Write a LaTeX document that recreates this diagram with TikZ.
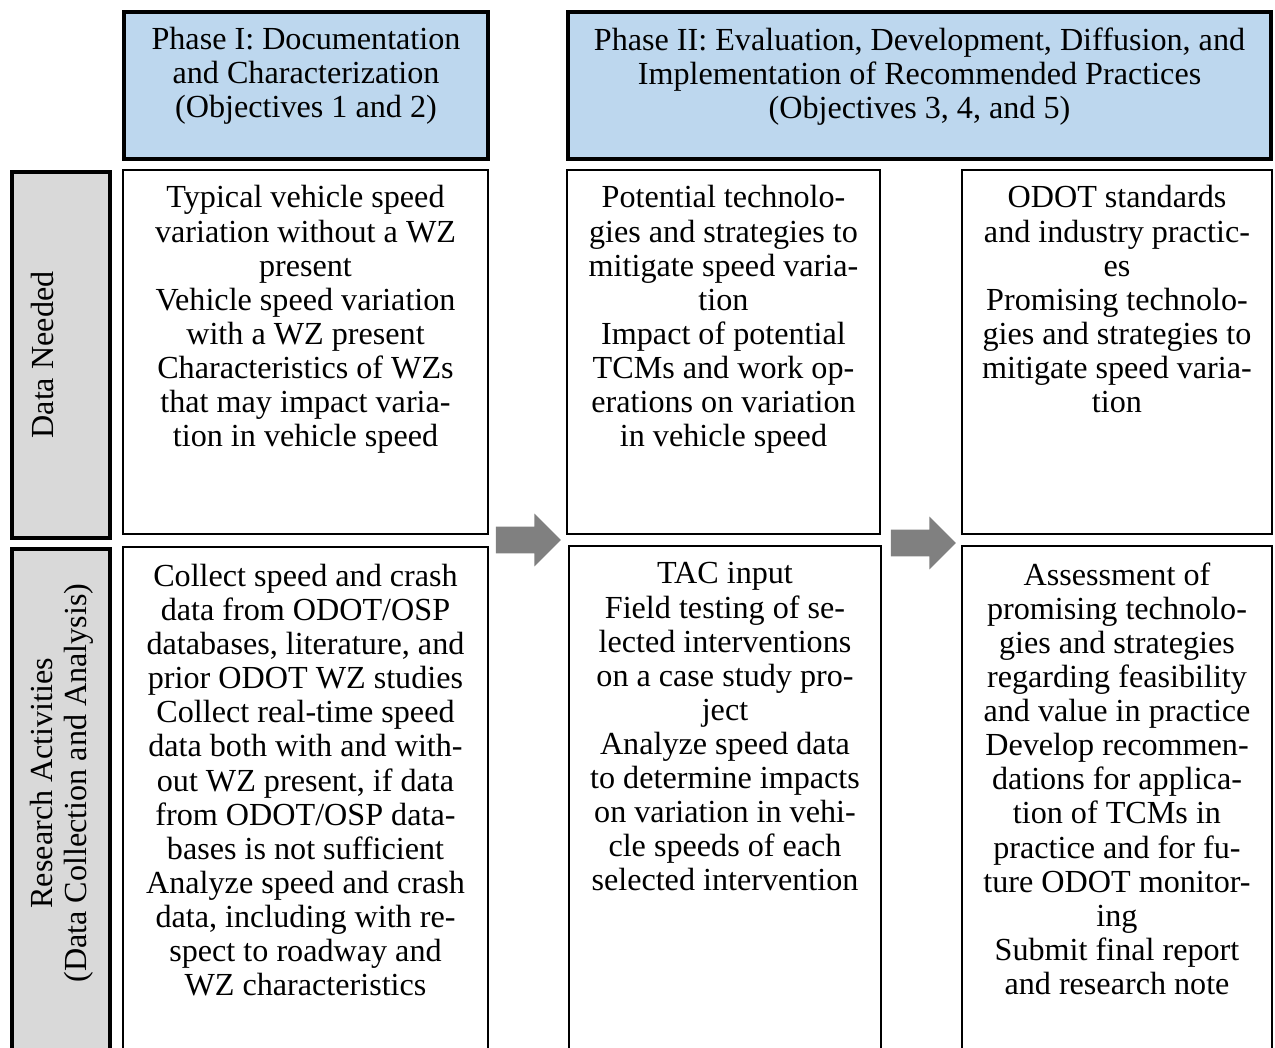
\documentclass[tikz,border=0pt]{standalone}
\usepackage{fontspec}
\setmainfont{Liberation Serif}
\usetikzlibrary{positioning,shapes.arrows,calc}
\definecolor{phaseblue}{RGB}{189,215,238}
\definecolor{rowgray}{RGB}{217,217,217}
\definecolor{arrowgray}{RGB}{128,128,128}

\begin{document}
\begin{tikzpicture}[
  x=0.02cm, y=-0.02cm,
  phase/.style={draw, line width=2.2pt, fill=phaseblue, inner sep=0pt, minimum height=2.94cm},
  rowlabel/.style={draw, line width=2.2pt, fill=rowgray, inner sep=0pt, minimum width=1.96cm},
  cell/.style={draw, line width=0.8pt, fill=white, inner sep=0pt},
  celltext/.style={align=center, inner sep=0pt, font=\fontsize{18.3}{19.4}\selectfont},
  bigarrow/.style={single arrow, fill=arrowgray, draw=none, inner xsep=0pt, inner ysep=0.26cm, minimum height=1.3cm, single arrow head extend=0.26cm, anchor=tip}
]
\useasboundingbox (0,0) rectangle (1275,1048);
% phase headers
\node[phase, minimum width=7.28cm] (ph1) at (306,85.5) {};
\node[phase, minimum width=14.06cm] (ph2) at (919.5,85.5) {};
\node[celltext, below=0.34cm of ph1.north] (ph1text) {Phase I: Documentation\\and Characterization\\(Objectives 1 and 2)};
\node[celltext, below=0.34cm of ph2.north] (ph2text) {Phase II: Evaluation, Development, Diffusion, and\\Implementation of Recommended Practices\\(Objectives 3, 4, and 5)};
% row labels
\node[rowlabel, minimum height=7.32cm] (need) at (61,355) {};
\node[rowlabel, minimum height=10.32cm] (act) at (61,807) {};
\node[celltext, rotate=90, anchor=base] (needtext) at (53,355) {Data Needed};
\node[celltext, rotate=90, anchor=north] (acttext) at (30,783) {Research Activities\\(Data Collection and Analysis)};
% cells
\node[cell, minimum width=7.30cm, minimum height=7.28cm] (a1) at (305.5,352) {};
\node[cell, minimum width=6.26cm, minimum height=7.28cm] (b1) at (723.5,352) {};
\node[cell, minimum width=6.20cm, minimum height=7.28cm] (c1) at (1117,352) {};
\node[cell, minimum width=7.30cm, minimum height=10.46cm] (a2) at (305.5,808.5) {};
\node[cell, minimum width=6.24cm, minimum height=10.48cm] (b2) at (725,808) {};
\node[cell, minimum width=6.20cm, minimum height=10.48cm] (c2) at (1117,808) {};
\node[celltext, below=0.32cm of a1.north] (a1text) {Typical vehicle speed\\variation without a WZ\\present\\Vehicle speed variation\\with a WZ present\\Characteristics of WZs\\that may impact varia-\\tion in vehicle speed};
\node[celltext, below=0.32cm of b1.north] (b1text) {Potential technolo-\\gies and strategies to\\mitigate speed varia-\\tion\\Impact of potential\\TCMs and work op-\\erations on variation\\in vehicle speed};
\node[celltext, below=0.32cm of c1.north] (c1text) {ODOT standards\\and industry practic-\\es\\Promising technolo-\\gies and strategies to\\mitigate speed varia-\\tion};
\node[celltext, below=0.35cm of a2.north] (a2text) {Collect speed and crash\\data from ODOT/OSP\\databases, literature, and\\prior ODOT WZ studies\\Collect real-time speed\\data both with and with-\\out WZ present, if data\\from ODOT/OSP data-\\bases is not sufficient\\Analyze speed and crash\\data, including with re-\\spect to roadway and\\WZ characteristics};
\node[celltext, below=0.34cm of b2.north] (b2text) {TAC input\\Field testing of se-\\lected interventions\\on a case study pro-\\ject\\Analyze speed data\\to determine impacts\\on variation in vehi-\\cle speeds of each\\selected intervention};
\node[celltext, below=0.34cm of c2.north] (c2text) {Assessment of\\promising technolo-\\gies and strategies\\regarding feasibility\\and value in practice\\Develop recommen-\\dations for applica-\\tion of TCMs in\\practice and for fu-\\ture ODOT monitor-\\ing\\Submit final report\\and research note};
% arrows between phases
\node[bigarrow] (arr1) at ($(b1.south west)!.5!(b2.north west)+(-6,0)$) {};
\node[bigarrow] (arr2) at ($(c1.south west)!.5!(c2.north west)+(-5,3)$) {};
\end{tikzpicture}
\end{document}
